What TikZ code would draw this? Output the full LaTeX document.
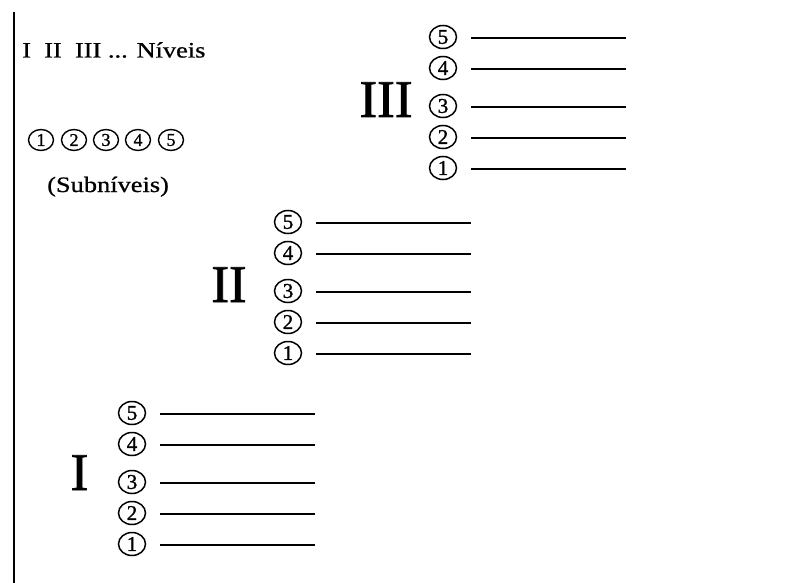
\documentclass[tikz,border=0pt]{standalone}
\usepackage{fontspec}
\setmainfont{Liberation Serif}
\newfontfamily\widefont[FakeStretch=1.2,FakeBold=0.8]{Liberation Serif}
\newfontfamily\heavyfont[FakeBold=1.5]{Liberation Serif}
\newfontfamily\digitfont[FakeBold=1.2]{Liberation Serif}
\usetikzlibrary{shapes.geometric}
\tikzset{
  bigcirc/.style={ellipse,draw,line width=1.5pt,minimum width=27pt,minimum height=23pt,inner sep=0pt,font=\digitfont\fontsize{21}{21}\selectfont},
  smallcirc/.style={ellipse,draw,line width=1.4pt,minimum width=25pt,minimum height=21pt,inner sep=0pt,font=\digitfont\fontsize{18}{18}\selectfont},
  levelline/.style={line width=2pt},
  roman/.style={anchor=base,inner sep=0pt,font=\heavyfont\fontsize{53}{53}\selectfont},
  smalltext/.style={anchor=base west,inner sep=0pt,font=\widefont\fontsize{22}{26}\selectfont}
}
\begin{document}
\begin{tikzpicture}[x=1pt,y=-1pt]
\useasboundingbox (0,0) rectangle (789,583);
\coordinate (vtop) at (14,12);
\coordinate (vbot) at (14,583);
\draw[line width=1.8pt] (vtop) -- (vbot);
\node[smalltext] (niveis) at (22,57.5) {I\ \ II\ \ III ... Níveis};
\foreach \d/\xx in {1/41,2/74,3/106,4/138,5/171}{
  \node[smallcirc] (s\d) at (\xx,140) {\d};
}
\node[smalltext] (subniveis) at (47,192) {(Subníveis)};
% groups: name / circle x / row-3 y / roman x / roman baseline offset / label
\foreach \g/\cx/\cy/\rx/\rb/\lab in {A/132/483/79.5/7/I,B/288/292/229/10/II,C/443/107/386/10/III}{
  \node[roman] (r\g) at (\rx,\cy+\rb) {\lab};
  \foreach \d/\off in {1/62,2/31,3/0,4/-38,5/-69}{
    \node[bigcirc] (c\g\d) at (\cx,\cy+\off-1) {\d};
    \coordinate (a\g\d) at (\cx+28,\cy+\off);
    \coordinate (b\g\d) at (\cx+183,\cy+\off);
    \draw[levelline] (a\g\d) -- (b\g\d);
  }
}
\end{tikzpicture}
\end{document}
